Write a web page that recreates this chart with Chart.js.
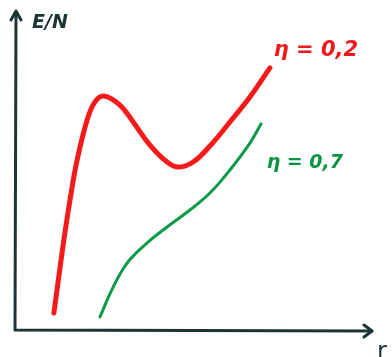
<!DOCTYPE html>
<html>
<head>
<meta charset="utf-8">
<script src="https://cdn.jsdelivr.net/npm/chart.js@4"></script>
<style>
  html, body { margin: 0; padding: 0; background: #fff; }
  canvas { display: block; }
</style>
</head>
<body>
<canvas id="canvas" width="392" height="357"></canvas>
<script>
// sketch of E/N against r for two values of eta (arbitrary units, 0-10)
let redX   = [1.09, 1.34, 1.54, 1.74, 2.02, 2.24, 2.49, 2.94, 3.31, 3.78, 4.26, 4.57, 4.99, 5.46, 6.02, 6.58, 7.14];
let redY   = [0.53, 2.59, 4.06, 5.31, 6.56, 7.13, 7.31, 7.03, 6.50, 5.78, 5.25, 5.09, 5.25, 5.75, 6.50, 7.28, 8.19];
let greenX = [2.38, 2.75, 3.14, 3.64, 4.26, 4.90, 5.46, 6.02, 6.58, 6.89];
let greenY = [0.41, 1.34, 2.09, 2.66, 3.22, 3.75, 4.28, 5.00, 5.84, 6.44];
let seriesLabels = ['η = 0,2', 'η = 0,7'];
let axisLabels = ['r', 'E/N'];

function toPoints(xs, ys) {
  return xs.map((x, i) => ({ x: x, y: ys[i] }));
}

const ink = '#1c3433';

// hand-drawn style axes with arrow heads plus the text labels
const sketchAxes = {
  id: 'sketchAxes',
  afterDraw(chart) {
    const ctx = chart.ctx;
    const a = chart.chartArea;
    const xs = chart.scales.x, ys = chart.scales.y;
    ctx.save();
    ctx.strokeStyle = ink;
    ctx.lineWidth = 3;
    ctx.lineCap = 'round';
    ctx.lineJoin = 'round';
    // axes
    ctx.beginPath();
    ctx.moveTo(a.left + 1, a.top + 2);
    ctx.lineTo(a.left, a.bottom);
    ctx.lineTo(a.right, a.bottom + 1);
    ctx.stroke();
    // arrow heads
    ctx.beginPath();
    ctx.moveTo(a.left - 4, a.top + 10);
    ctx.lineTo(a.left + 1, a.top + 1);
    ctx.lineTo(a.left + 6, a.top + 10);
    ctx.moveTo(a.right - 8, a.bottom - 5);
    ctx.lineTo(a.right, a.bottom + 1);
    ctx.lineTo(a.right - 8, a.bottom + 7);
    ctx.stroke();

    // axis labels
    ctx.fillStyle = ink;
    ctx.textBaseline = 'alphabetic';
    ctx.font = 'italic bold 19px "DejaVu Sans"';
    ctx.fillText(axisLabels[1], a.left + 17, a.top + 18);
    ctx.font = '24px "DejaVu Sans"';
    ctx.fillText(axisLabels[0], a.right + 5, a.bottom + 29);

    // curve labels
    ctx.font = 'italic bold 21px "DejaVu Sans"';
    ctx.fillStyle = '#f01818';
    ctx.fillText(seriesLabels[0], xs.getPixelForValue(7.25), ys.getPixelForValue(8.55));
    ctx.font = 'italic bold 19px "DejaVu Sans"';
    ctx.fillStyle = '#0a9440';
    ctx.fillText(seriesLabels[1], xs.getPixelForValue(7.05), ys.getPixelForValue(5.05));
    ctx.restore();
  }
};

new Chart(document.getElementById('canvas'), {
  type: 'scatter',
  data: {
    datasets: [{
      label: seriesLabels[0],
      data: toPoints(redX, redY),
      showLine: true,
      borderColor: '#f51a1a',
      borderWidth: 5,
      pointRadius: 0,
      tension: 0.4,
      borderCapStyle: 'round'
    }, {
      label: seriesLabels[1],
      data: toPoints(greenX, greenY),
      showLine: true,
      borderColor: '#0b9a45',
      borderWidth: 3,
      pointRadius: 0,
      tension: 0.4,
      borderCapStyle: 'round'
    }]
  },
  options: {
    responsive: false,
    animation: false,
    layout: { padding: { left: 15, top: 10, right: 20, bottom: 27 } },
    plugins: {
      legend: { display: false },
      tooltip: { enabled: false }
    },
    scales: {
      x: { type: 'linear', min: 0, max: 10, display: false },
      y: { type: 'linear', min: 0, max: 10, display: false }
    }
  },
  plugins: [sketchAxes]
});
</script>
</body>
</html>
